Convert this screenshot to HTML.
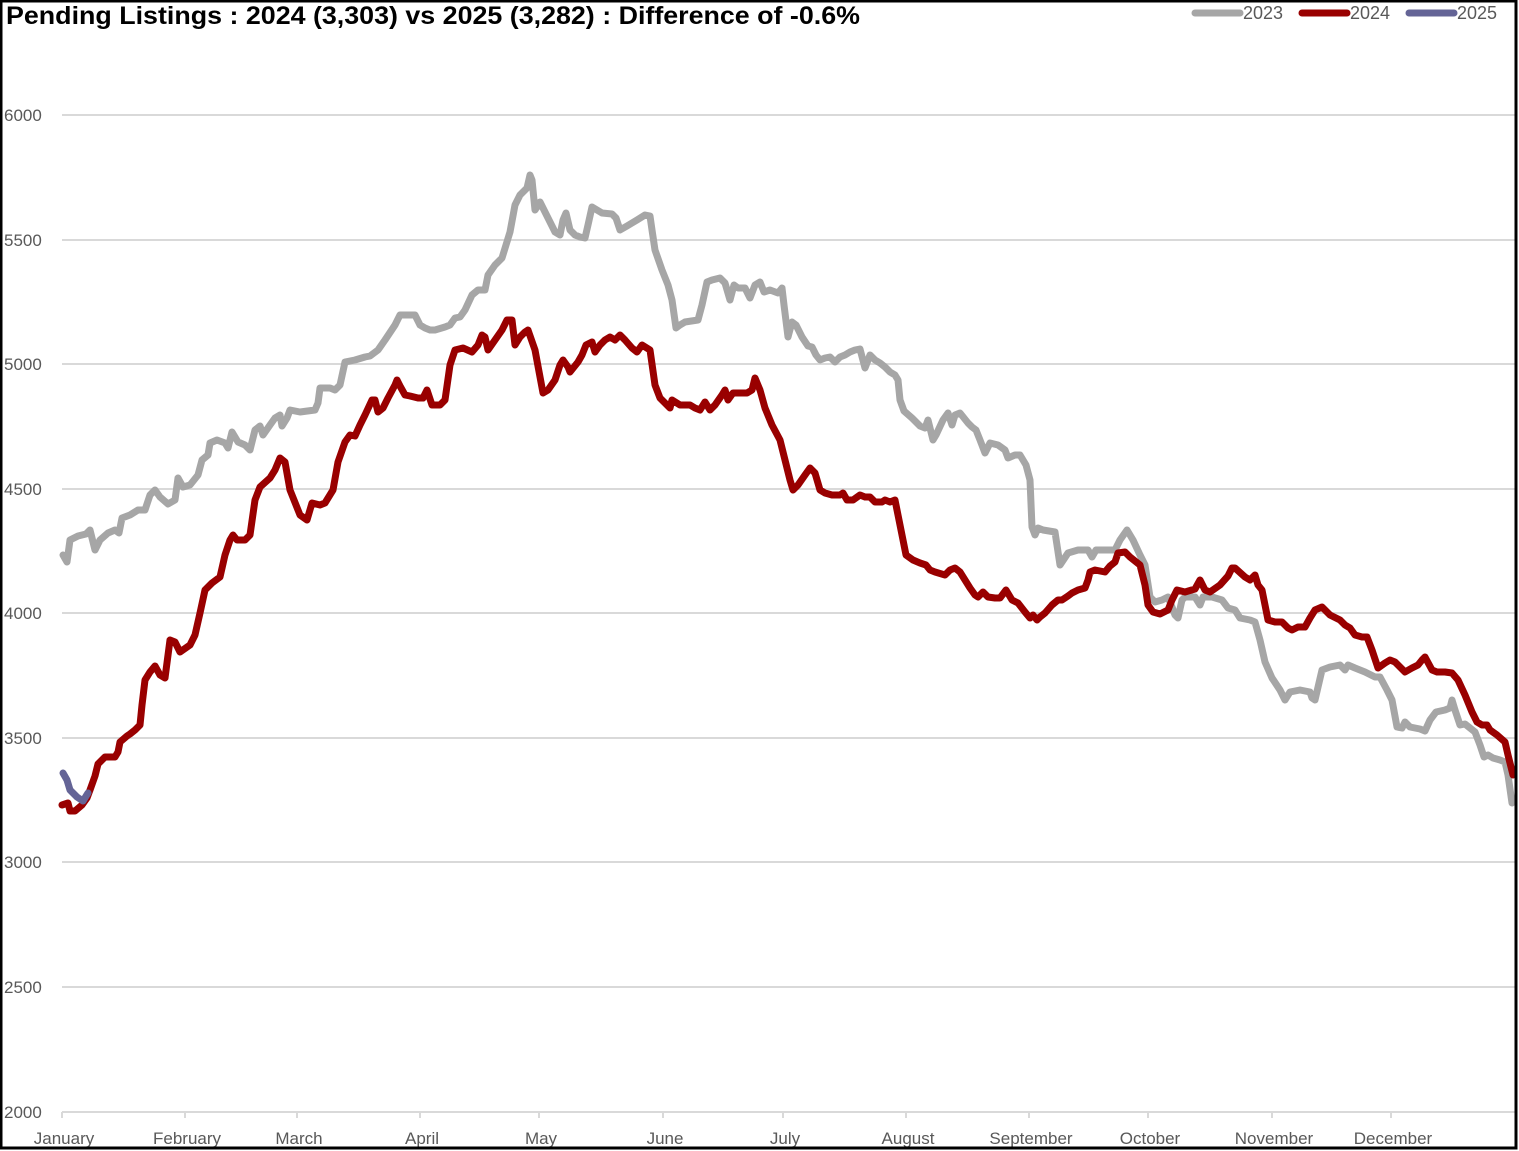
<!DOCTYPE html>
<html><head><meta charset="utf-8"><style>
html,body{margin:0;padding:0;background:#fff}
svg{display:block}
text{font-family:"Liberation Sans",sans-serif}
</style></head><body>
<svg width="1519" height="1151" viewBox="0 0 1519 1151" xmlns="http://www.w3.org/2000/svg">
<rect x="0" y="0" width="1519" height="1151" fill="#fff"/>
<g stroke="#d9d9d9" stroke-width="2">
<line x1="62" y1="115" x2="1515" y2="115"/>
<line x1="62" y1="240" x2="1515" y2="240"/>
<line x1="62" y1="364" x2="1515" y2="364"/>
<line x1="62" y1="489" x2="1515" y2="489"/>
<line x1="62" y1="613" x2="1515" y2="613"/>
<line x1="62" y1="738" x2="1515" y2="738"/>
<line x1="62" y1="862" x2="1515" y2="862"/>
<line x1="62" y1="987" x2="1515" y2="987"/>
<line x1="62" y1="1112" x2="1515" y2="1112"/>
<g>
<line x1="62" y1="1112" x2="62" y2="1118"/><line x1="185" y1="1112" x2="185" y2="1118"/><line x1="297" y1="1112" x2="297" y2="1118"/><line x1="420" y1="1112" x2="420" y2="1118"/><line x1="539" y1="1112" x2="539" y2="1118"/><line x1="663" y1="1112" x2="663" y2="1118"/><line x1="783" y1="1112" x2="783" y2="1118"/><line x1="906" y1="1112" x2="906" y2="1118"/><line x1="1029" y1="1112" x2="1029" y2="1118"/><line x1="1148" y1="1112" x2="1148" y2="1118"/><line x1="1272" y1="1112" x2="1272" y2="1118"/><line x1="1391" y1="1112" x2="1391" y2="1118"/>
</g></g>
<g fill="#595959" font-size="17">
<text x="4" y="121">6000</text><text x="4" y="246">5500</text><text x="4" y="370">5000</text><text x="4" y="495">4500</text><text x="4" y="619">4000</text><text x="4" y="744">3500</text><text x="4" y="868">3000</text><text x="4" y="993">2500</text><text x="4" y="1118">2000</text>
</g>
<g fill="#595959" font-size="17" text-anchor="middle">
<text x="64" y="1144">January</text><text x="187" y="1144">February</text><text x="299" y="1144">March</text><text x="422" y="1144">April</text><text x="541" y="1144">May</text><text x="665" y="1144">June</text><text x="785" y="1144">July</text><text x="908" y="1144">August</text><text x="1031" y="1144">September</text><text x="1150" y="1144">October</text><text x="1274" y="1144">November</text><text x="1393" y="1144">December</text>
</g>
<g fill="none" stroke-width="7" stroke-linejoin="round" stroke-linecap="round">
<polyline stroke="#a6a6a6" points="63,555 67,562 70,540 78,536 86,534 90,530 95,550 100,540 108,533 115,530 119,533 122,518 130,515 138,510 145,510 150,495 155,490 160,497 168,504 175,500 178,478 183,487 190,485 198,475 202,460 208,455 210,443 217,440 225,443 228,448 232,432 238,442 245,445 250,450 255,430 260,426 263,435 270,425 275,418 280,415 282,426 287,418 290,410 300,412 315,410 318,403 320,388 330,388 335,390 340,385 345,362 355,360 365,357 370,356 378,350 385,340 395,325 400,315 408,315 415,315 420,325 425,328 430,330 435,330 445,327 450,325 455,318 460,317 465,310 472,295 478,290 485,290 488,275 495,265 502,258 510,232 515,205 520,195 527,188 530,175 532,180 535,210 540,202 548,218 555,232 560,235 563,220 566,213 570,230 575,235 580,237 585,238 588,225 592,207 597,210 602,213 612,214 616,218 620,230 627,226 637,220 645,215 650,216 652,230 655,250 662,270 668,285 672,300 676,328 680,325 685,322 698,320 702,305 707,282 712,280 720,278 725,283 730,300 734,285 738,288 745,288 750,298 755,285 760,282 764,292 770,290 778,293 782,288 784,305 788,337 792,322 796,325 802,337 808,346 812,347 816,355 820,360 825,358 830,357 835,362 840,357 845,355 850,352 855,350 860,349 865,368 870,355 875,360 880,363 885,367 890,372 895,375 898,380 900,400 904,411 912,418 920,426 925,428 928,420 933,440 936,435 943,420 948,413 952,425 955,415 960,413 968,423 972,427 976,430 980,440 985,453 990,443 998,445 1005,450 1008,458 1015,455 1020,455 1026,465 1030,480 1032,527 1035,535 1038,528 1043,530 1055,532 1060,565 1068,553 1078,550 1088,550 1092,557 1096,550 1115,550 1120,540 1127,530 1133,540 1140,555 1145,565 1150,597 1155,602 1162,600 1168,597 1172,607 1175,615 1178,618 1182,600 1185,597 1195,597 1200,605 1203,597 1212,597 1222,600 1228,608 1235,610 1240,618 1250,620 1255,622 1260,640 1265,662 1272,678 1280,690 1285,700 1290,692 1300,690 1310,692 1312,698 1315,700 1322,670 1330,667 1340,665 1345,670 1348,665 1355,668 1365,672 1375,677 1380,677 1387,690 1392,700 1397,727 1402,728 1405,722 1410,727 1420,729 1425,731 1430,720 1436,712 1445,710 1450,708 1452,700 1455,710 1460,725 1465,724 1475,732 1480,745 1484,757 1488,755 1493,758 1500,760 1505,762 1508,775 1512,803"/>
<polyline stroke="#990000" points="62,805 68,803 70,811 75,811 82,805 87,798 90,790 95,776 98,764 105,757 115,757 118,752 120,742 127,736 130,734 135,730 140,725 142,705 145,680 150,672 155,666 160,675 165,678 170,640 175,642 180,652 190,645 195,635 200,613 205,590 212,583 220,577 225,555 230,540 233,535 237,540 245,540 250,535 255,500 260,487 270,478 275,470 280,458 285,462 290,490 300,515 307,520 312,503 320,505 325,503 333,490 338,462 345,442 350,435 355,436 360,425 365,415 372,400 375,400 378,412 383,408 388,398 395,385 397,380 400,386 405,395 410,396 418,398 423,398 427,390 432,405 440,405 445,400 450,365 455,350 463,348 472,352 478,345 482,335 485,337 488,350 495,340 502,330 507,320 512,320 515,345 520,337 525,332 528,330 535,350 543,393 548,390 555,380 560,365 563,360 568,367 570,372 578,362 582,355 586,345 592,342 595,352 600,345 605,340 610,337 615,340 620,335 625,340 632,348 637,352 642,345 650,350 655,385 660,398 665,403 670,408 672,400 680,405 690,405 695,408 700,410 705,402 710,410 715,405 722,395 725,390 728,400 733,393 740,393 747,393 752,390 755,378 760,390 765,408 772,425 780,440 785,460 790,480 793,490 798,485 805,475 810,468 815,473 820,490 825,493 832,495 840,495 843,493 847,500 853,500 860,495 865,497 870,497 875,502 882,502 885,500 890,502 895,500 898,515 902,535 906,555 913,560 920,563 926,565 930,570 935,572 945,575 950,570 955,568 960,572 965,580 970,588 975,595 978,597 983,592 988,597 995,598 1000,598 1006,590 1012,600 1018,603 1025,612 1030,618 1033,615 1037,620 1040,617 1045,613 1052,605 1058,600 1062,600 1068,596 1072,593 1078,590 1085,588 1088,580 1090,572 1095,570 1105,572 1110,566 1115,562 1118,553 1125,552 1130,557 1140,565 1145,585 1148,605 1153,612 1160,614 1168,610 1172,600 1177,590 1185,592 1195,589 1200,580 1205,590 1210,592 1220,585 1228,576 1232,568 1235,568 1245,577 1250,580 1255,575 1258,585 1262,590 1268,620 1275,622 1282,622 1288,628 1292,630 1298,627 1305,627 1310,618 1315,610 1322,607 1330,615 1340,620 1345,625 1350,628 1355,635 1362,637 1367,637 1372,650 1378,668 1385,663 1390,660 1395,662 1400,667 1405,672 1412,668 1418,665 1422,660 1425,657 1432,670 1437,672 1445,672 1452,673 1458,680 1465,695 1472,712 1477,722 1482,725 1487,725 1490,730 1497,735 1505,742 1508,755 1513,775"/>
<polyline stroke="#646496" points="63,773 67,780 70,790 77,797 83,801 88,793"/>
</g>
<text x="6" y="24" font-size="25" font-weight="bold" fill="#000" textLength="854" lengthAdjust="spacingAndGlyphs">Pending Listings : 2024 (3,303) vs 2025 (3,282) : Difference of -0.6%</text>
<g stroke-width="7" stroke-linecap="round">
<line x1="1195" y1="13" x2="1240" y2="13" stroke="#a6a6a6"/>
<line x1="1302" y1="13" x2="1347" y2="13" stroke="#990000"/>
<line x1="1409" y1="13" x2="1454" y2="13" stroke="#646496"/>
</g>
<g fill="#595959" font-size="18">
<text x="1243" y="19">2023</text><text x="1350" y="19">2024</text><text x="1457" y="19">2025</text>
</g>
<rect x="1" y="1" width="1515" height="1147" fill="none" stroke="#000" stroke-width="3"/>
</svg>
</body></html>
